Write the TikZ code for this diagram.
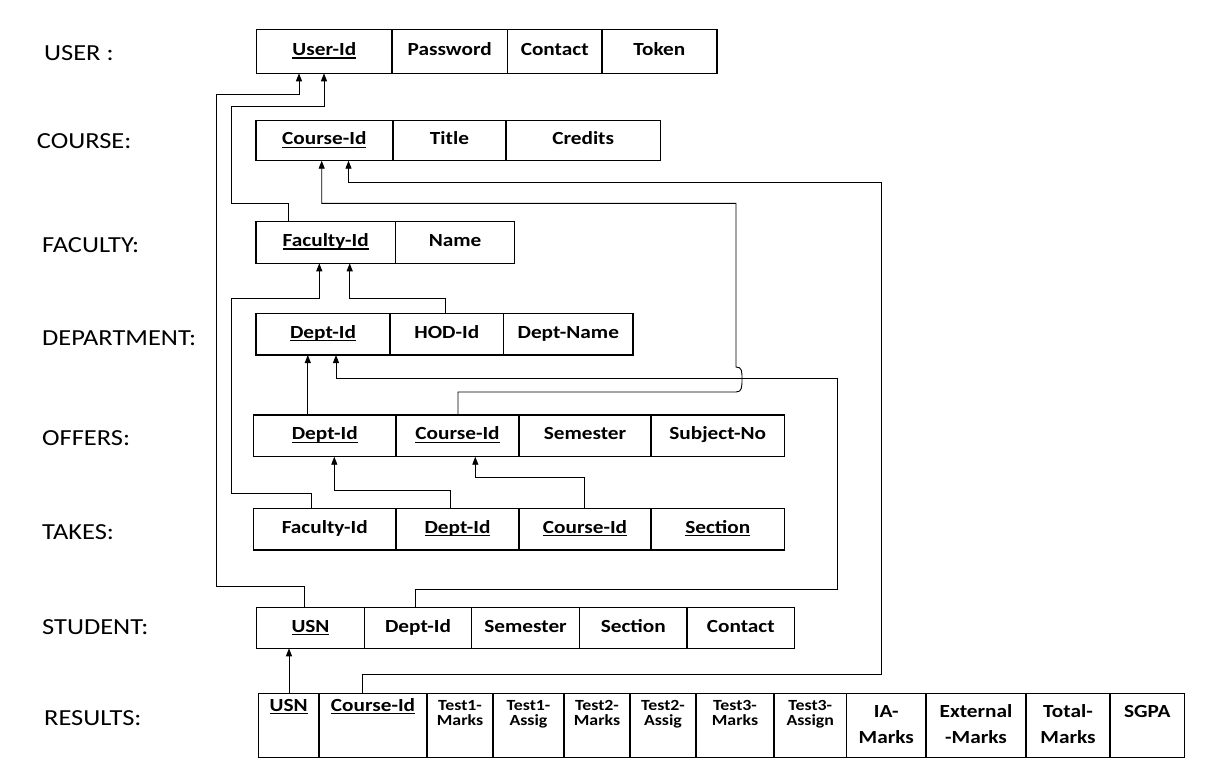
\documentclass[tikz,border=0pt]{standalone}
\usepackage{fontspec}
\setmainfont{Carlito}[FakeStretch=1.15]
\usetikzlibrary{arrows.meta}
\newcommand\keyul[1]{\setbox0=\hbox{#1}\rlap{\rule[-3.2pt]{\wd0}{1.3pt}}\box0}
\newcommand\twol[3]{\vtop{\baselineskip=#1\lineskiplimit=-1000pt\relax\halign{\hfil##\hfil\cr#2\cr#3\cr}}}
\newcommand\ercell[7][]{\node[cell,#1,minimum width={#4pt-#3pt},minimum height={#6pt-#5pt}] (#2) at (#3,#5) {#7};}
\begin{document}
\begin{tikzpicture}[x=1pt,y=-1pt,
  cell/.style={draw=black, line width=1.4pt, rectangle, inner sep=0pt, outer sep=0pt,
    anchor=north west, text height=11pt, text depth=3pt,
    font=\fontsize{18.5}{22}\selectfont\bfseries},
  rkey/.style={text height=17.7pt, text depth=46.3pt},
  rsmall/.style={text height=16.7pt, text depth=47.3pt, font=\fontsize{15.5}{15}\selectfont\bfseries},
  rbig/.style={text height=23.7pt, text depth=40.3pt},
  lbl/.style={inner sep=0pt, anchor=base west, font=\fontsize{23}{27}\selectfont},
  conn/.style={draw=black, line width=0.9pt, -{Triangle[length=8pt,width=6pt]}},
]
\useasboundingbox (0,0) rectangle (1213,780);
\fill[white] (0,0) rectangle (1213,780);

% left labels
\node[lbl] (lu) at (44,60.7) {USER :};
\node[lbl] (lc) at (36.7,148.3) {COURSE:};
\node[lbl] (lf) at (42,252.5) {FACULTY:};
\node[lbl] (ld) at (42,345.5) {DEPARTMENT:};
\node[lbl] (lo) at (42,445.5) {OFFERS:};
\node[lbl] (lt) at (42,539.5) {TAKES:};
\node[lbl] (ls) at (42,634.5) {STUDENT:};
\node[lbl] (lr) at (44,725.5) {RESULTS:};

% USER
\ercell{u1}{256.7}{392}{29.3}{73.3}{\keyul{User-Id}}
\ercell{u2}{392}{507.4}{29.3}{73.3}{Password}
\ercell{u3}{507.4}{602}{29.3}{73.3}{Contact}
\ercell{u4}{602}{716.8}{29.3}{73.3}{Token}
% COURSE
\ercell{c1}{255.8}{392.9}{120.7}{160.7}{\keyul{Course-Id}}
\ercell{c2}{392.9}{506}{120.7}{160.7}{Title}
\ercell{c3}{506}{660.4}{120.7}{160.7}{Credits}
% FACULTY
\ercell{f1}{255.8}{395.6}{221.7}{263.3}{\keyul{Faculty-Id}}
\ercell{f2}{395.6}{514.5}{221.7}{263.3}{Name}
% DEPARTMENT
\ercell{d1}{256}{390}{313.3}{355}{\keyul{Dept-Id}}
\ercell{d2}{390}{503.6}{313.3}{355}{HOD-Id}
\ercell{d3}{503.6}{633}{313.3}{355}{Dept-Name}
% OFFERS
\ercell{o1}{253.5}{396}{415}{456.7}{\keyul{Dept-Id}}
\ercell{o2}{396}{519}{415}{456.7}{\keyul{Course-Id}}
\ercell{o3}{519}{651}{415}{456.7}{Semester}
\ercell{o4}{651}{784.5}{415}{456.7}{Subject-No}
% TAKES
\ercell{t1}{253.5}{396}{508.3}{550}{Faculty-Id}
\ercell{t2}{396}{519}{508.3}{550}{\keyul{Dept-Id}}
\ercell{t3}{519}{651}{508.3}{550}{\keyul{Course-Id}}
\ercell{t4}{651}{784.5}{508.3}{550}{\keyul{Section}}
% STUDENT
\ercell{s1}{256.7}{364.3}{607.7}{648.3}{\keyul{USN}}
\ercell{s2}{364.3}{471.7}{607.7}{648.3}{Dept-Id}
\ercell{s3}{471.7}{579.5}{607.7}{648.3}{Semester}
\ercell{s4}{579.5}{687}{607.7}{648.3}{Section}
\ercell{s5}{687}{794.5}{607.7}{648.3}{Contact}
% RESULTS
\ercell[rkey]{r1}{258.3}{319}{693.3}{757.3}{\keyul{USN}}
\ercell[rkey]{r2}{319}{427}{693.3}{757.3}{\keyul{Course-Id}}
\ercell[rsmall]{r3}{427}{493}{693.3}{757.3}{\twol{15pt}{Test1-}{Marks}}
\ercell[rsmall]{r4}{493}{564}{693.3}{757.3}{\twol{15pt}{Test1-}{Assig}}
\ercell[rsmall]{r5}{564}{630}{693.3}{757.3}{\twol{15pt}{Test2-}{Marks}}
\ercell[rsmall]{r6}{630}{696}{693.3}{757.3}{\twol{15pt}{Test2-}{Assig}}
\ercell[rsmall]{r7}{696}{774}{693.3}{757.3}{\twol{15pt}{Test3-}{Marks}}
\ercell[rsmall]{r8}{774}{846.5}{693.3}{757.3}{\twol{15pt}{Test3-}{Assign}}
\ercell[rbig]{r9}{846.5}{926}{693.3}{757.3}{\twol{26.5pt}{IA-}{Marks}}
\ercell[rbig]{r10}{926}{1026}{693.3}{757.3}{\twol{26.5pt}{External}{-Marks}}
\ercell[rbig]{r11}{1026}{1110}{693.3}{757.3}{\twol{26.5pt}{Total-}{Marks}}
\ercell[rbig]{r12}{1110}{1184.5}{693.3}{757.3}{SGPA}

% connectors
\draw[conn] ([xshift=-37.4pt]f1.north) |- (231.7,203.3) -- (231.7,106.7) -| ([xshift=-0.35pt]u1.south);
\draw[conn] ([xshift=-6.2pt]s1.north) |- (216,586) -- (216,94) -| ([xshift=-25.35pt]u1.south);
\draw[conn] ([xshift=-13.05pt]t1.north) |- (231.7,493.3) -- (231.7,298.3) -| ([xshift=-6.4pt]f1.south);
\draw[conn] ([xshift=-1.1pt]d2.north) |- (349.7,298.3) -- ([xshift=24pt]f1.south);
\draw[conn] ([xshift=-16.95pt]o1.north) -- ([xshift=-15.2pt]d1.south);
\draw[conn] ([xshift=0.5pt]o2.north) |- (736,392)
   .. controls (742,392) and (742,387) .. (742,379)
   .. controls (742,371) and (742,367) .. (736,367)
   -- (736,203.3) -| ([xshift=-2.65pt]c1.south);
\draw[conn] ([xshift=-2.7pt]s2.north) |- (837,589.7) -- (837,378.3) -| ([xshift=13pt]d1.south);
\draw[conn] ([xshift=-6.8pt]t2.north) |- (334.3,490) -- ([xshift=9.55pt]o1.south);
\draw[conn] ([xshift=-0.7pt]t3.north) |- (475.3,477.3) -- ([xshift=17.8pt]o2.south);
\draw[conn] ([xshift=0.35pt]r1.north) -- ([xshift=-21.5pt]s1.south);
\draw[conn] ([xshift=-10.3pt]r2.north) |- (881,674.3) -- (881,182.3) -| ([xshift=24.15pt]c1.south);
\end{tikzpicture}
\end{document}
